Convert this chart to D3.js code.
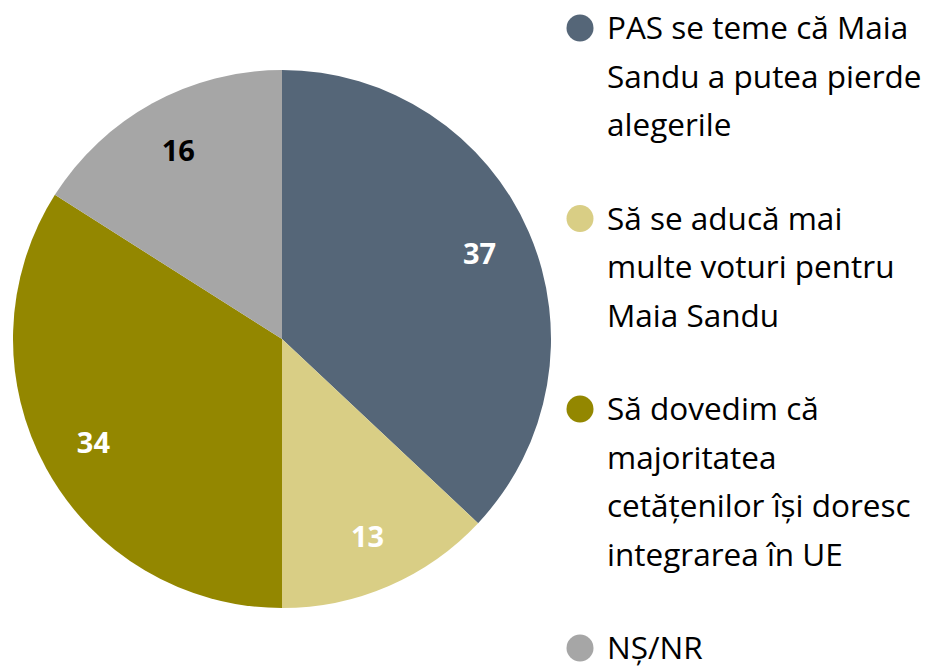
<!DOCTYPE html>
<html lang="ro">
<head>
<meta charset="UTF-8">
<title>Pie</title>
<script src="https://cdn.jsdelivr.net/npm/d3@7"></script>
<style>
  body { margin: 0; background: #fff; }
  text { font-family: "Open Sans", Lato, sans-serif; }
</style>
</head>
<body>
<div id="chart"></div>
<script>
// data
var categories = [
  "PAS se teme că Maia Sandu a putea pierde alegerile",
  "Să se aducă mai multe voturi pentru Maia Sandu",
  "Să dovedim că majoritatea cetățenilor își doresc integrarea în UE",
  "NȘ/NR"
];
var legendLines = [
  ["PAS se teme că Maia", "Sandu a putea pierde", "alegerile"],
  ["Să se aducă mai", "multe voturi pentru", "Maia Sandu"],
  ["Să dovedim că", "majoritatea", "cetățenilor își doresc", "integrarea în UE"],
  ["NȘ/NR"]
];
var values = [37, 13, 34, 16];
var colors = ["#556678", "#d9ce85", "#938700", "#a6a6a6"];
var labelColors = ["#fff", "#fff", "#fff", "#000"];

var width = 933, height = 669;
var cx = 282, cy = 339, radius = 269;

var svg = d3.select("#chart").append("svg")
  .attr("width", width)
  .attr("height", height);

var pie = d3.pie().sort(null).value(function(d) { return d; });
var arcs = pie(values);

var arc = d3.arc().innerRadius(0).outerRadius(radius);
var labelArc = d3.arc().innerRadius(radius * 0.8).outerRadius(radius * 0.8);

var g = svg.append("g").attr("transform", "translate(" + cx + "," + cy + ")");

g.selectAll("path")
  .data(arcs)
  .join("path")
  .attr("d", arc)
  .attr("fill", function(d, i) { return colors[i]; });

g.selectAll("text.val")
  .data(arcs)
  .join("text")
  .attr("class", "val")
  .attr("transform", function(d) { return "translate(" + labelArc.centroid(d) + ")"; })
  .attr("text-anchor", "middle")
  .attr("dy", "0.36em")
  .attr("font-size", 29)
  .attr("font-weight", "bold")
  .attr("fill", function(d, i) { return labelColors[i]; })
  .text(function(d) { return d.data; });

// legend
var lineH = 48.5, gap = 45;
var legend = svg.append("g");
var y = 28;
legendLines.forEach(function(lines, i) {
  var item = legend.append("g").attr("transform", "translate(0," + y + ")");
  item.append("circle")
    .attr("cx", 580).attr("cy", 0).attr("r", 13.5)
    .attr("fill", colors[i]);
  var t = item.append("text")
    .attr("x", 607)
    .attr("y", 0)
    .attr("font-size", 31.5)
    .attr("fill", "#000");
  t.append("title").text(categories[i]);
  lines.forEach(function(line, j) {
    t.append("tspan")
      .attr("x", 607)
      .attr("dy", j === 0 ? "0.35em" : lineH)
      .text(line);
  });
  y += lines.length * lineH + gap;
});
</script>
</body>
</html>
